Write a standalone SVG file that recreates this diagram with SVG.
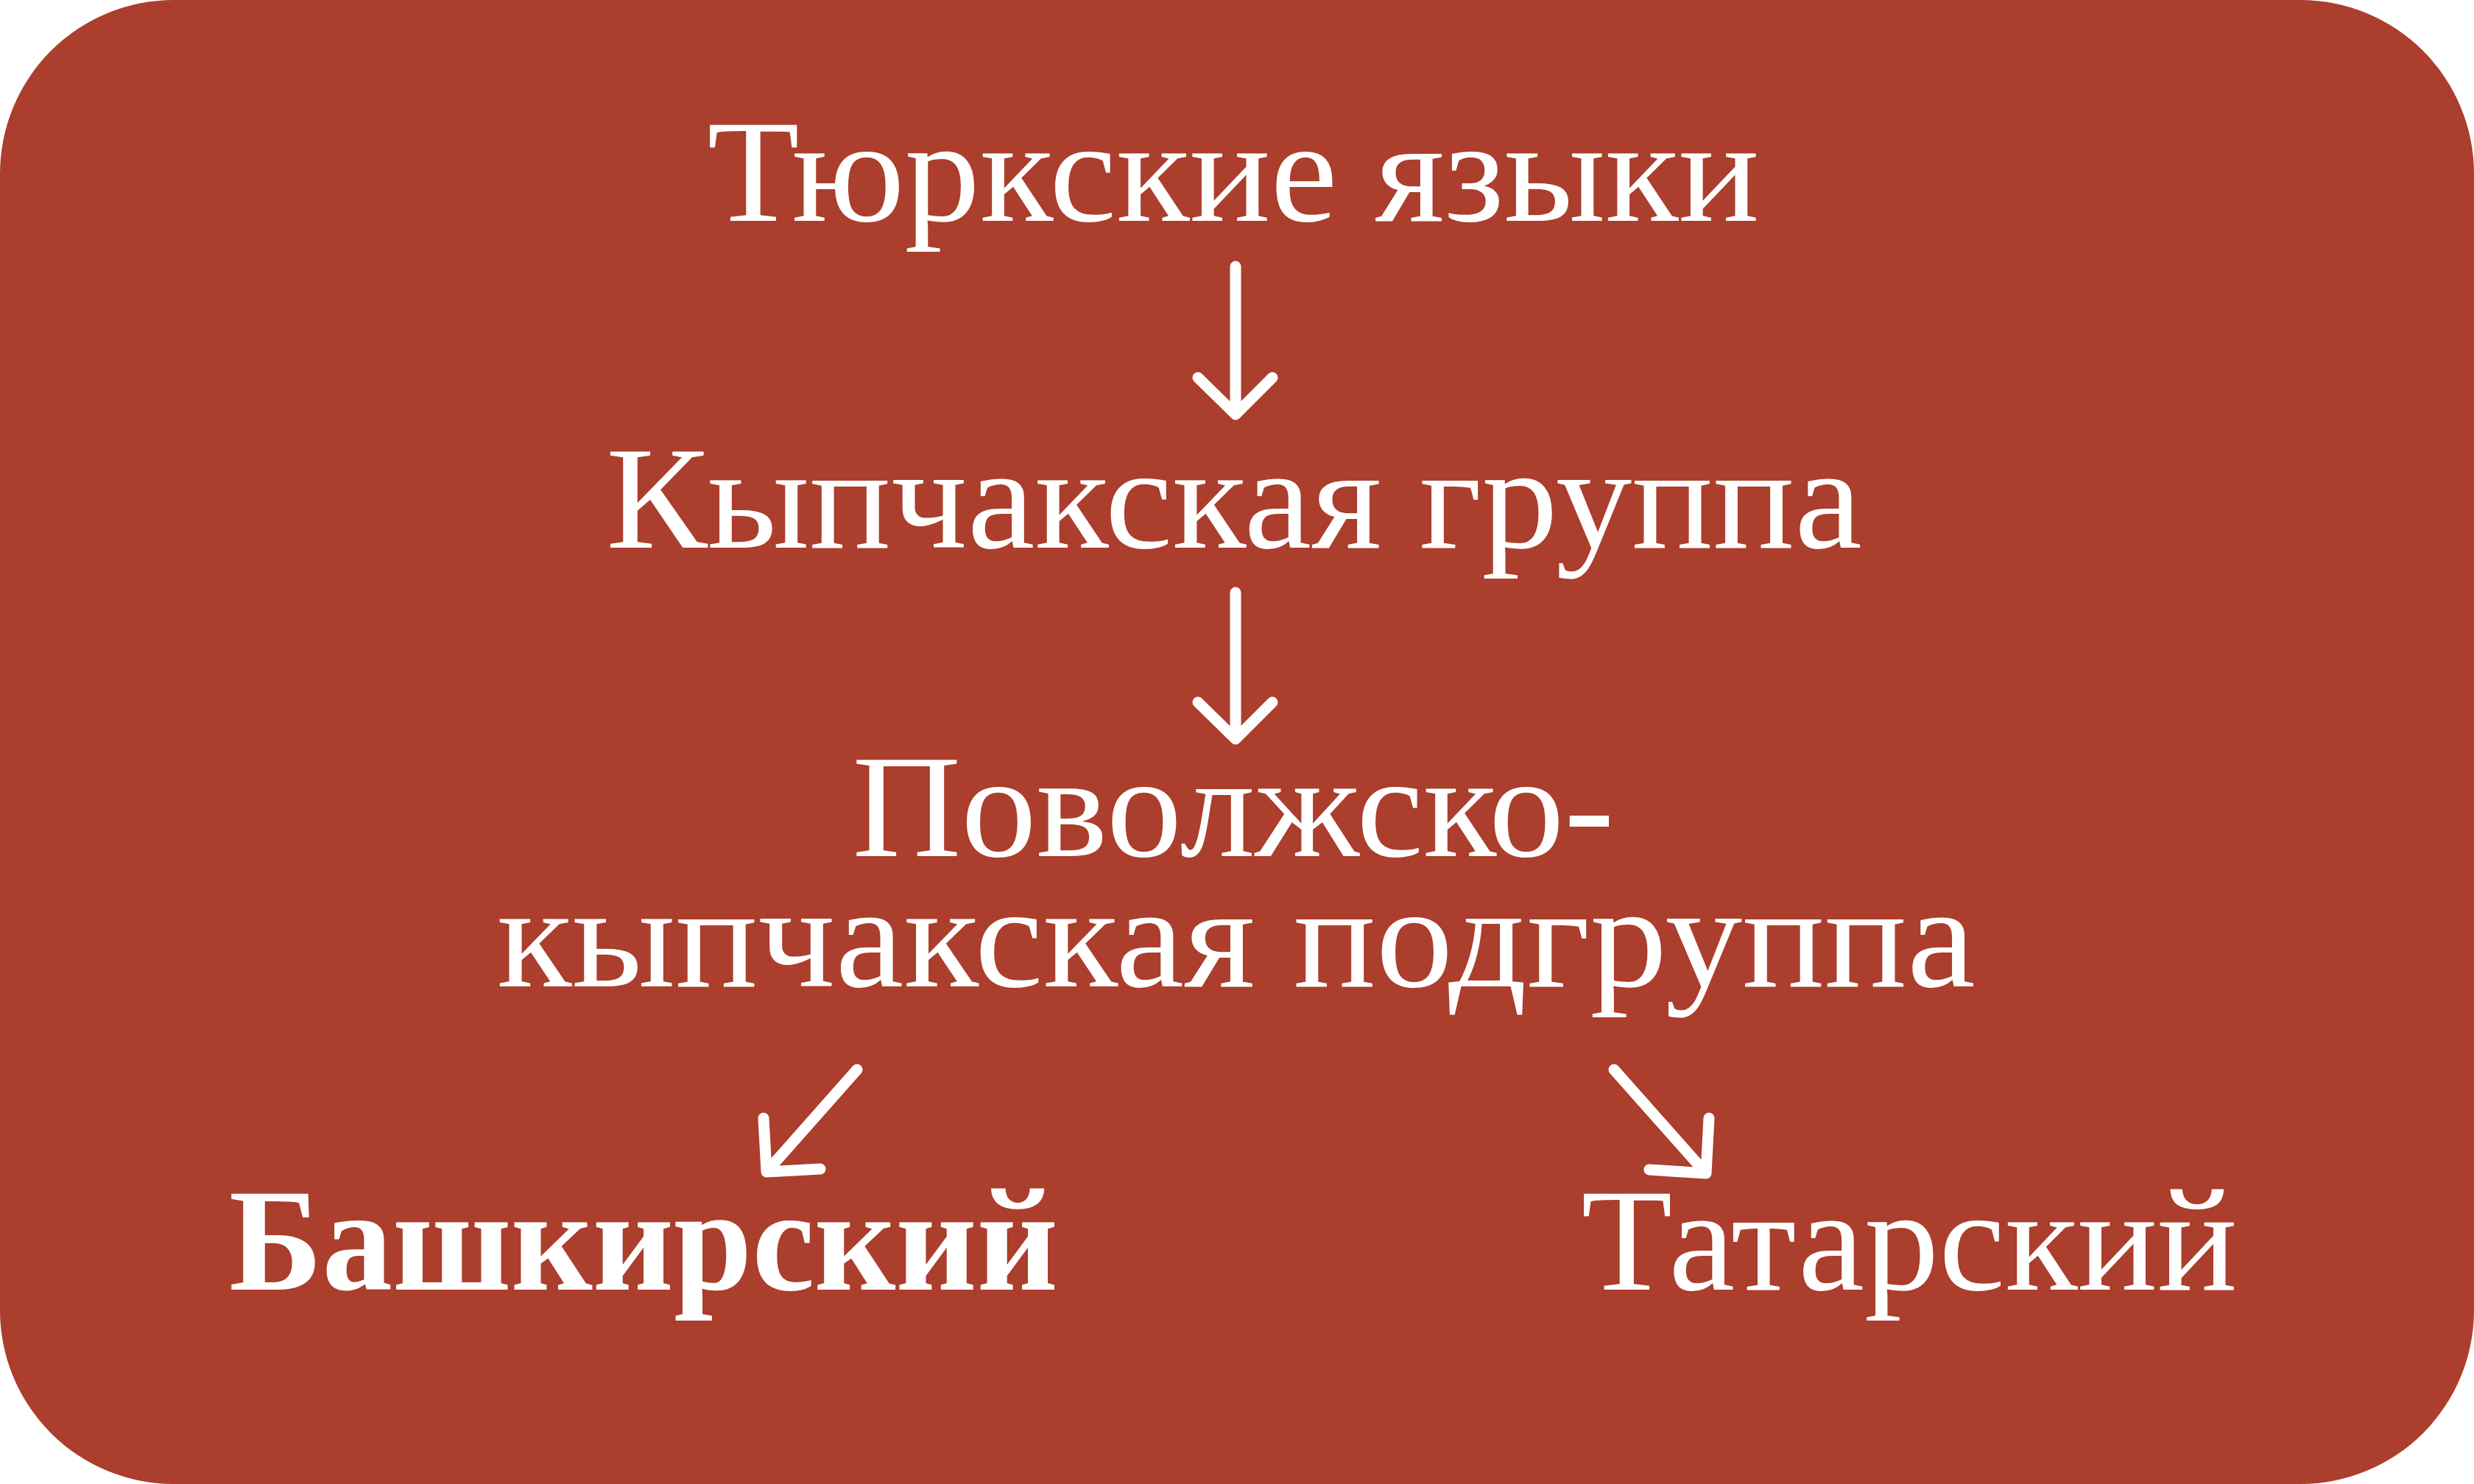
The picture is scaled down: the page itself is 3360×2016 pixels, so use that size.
<svg xmlns="http://www.w3.org/2000/svg" width="3360" height="2016" viewBox="0 0 3360 2016">
<style>
.t{font-family:"Liberation Serif","DejaVu Serif",serif;font-size:200px;fill:#ffffff;text-anchor:middle}
.b{font-weight:bold}
.c{fill:none;stroke:#ffffff;stroke-width:15;stroke-linecap:round;stroke-linejoin:round}
</style>
<rect x="0" y="0" width="3360" height="2016" rx="236" ry="236" fill="#AB3E2C"/>
<g id="n1"><text class="t" x="1675" y="300" textLength="1429" lengthAdjust="spacingAndGlyphs">Тюркские языки</text></g>
<g id="n2"><text class="t" x="1676" y="744" textLength="1706" lengthAdjust="spacingAndGlyphs">Кыпчакская группа</text></g>
<g id="n3"><text class="t" x="1675" y="1163" textLength="1035" lengthAdjust="spacingAndGlyphs">Поволжско-</text>
<text class="t" x="1679" y="1340" textLength="2008" lengthAdjust="spacingAndGlyphs">кыпчакская подгруппа</text></g>
<g id="n4"><text class="t b" x="874" y="1752" textLength="1126" lengthAdjust="spacingAndGlyphs">Башкирский</text></g>
<g id="n5"><text class="t" x="2593" y="1752" textLength="891" lengthAdjust="spacingAndGlyphs">Татарский</text></g>
<g id="connectors">
<path class="c" d="M1678 362 V563 M1627 513 L1678 563 L1728 513"/>
<path class="c" d="M1678 805 V1004 M1627 954 L1678 1004 L1728 954"/>
<path class="c" d="M1164 1453 L1041 1592 M1037 1519 L1041 1592 L1114 1588"/>
<path class="c" d="M2192 1453 L2317 1594 M2321 1519 L2317 1594 L2240 1589"/>
</g>
</svg>
